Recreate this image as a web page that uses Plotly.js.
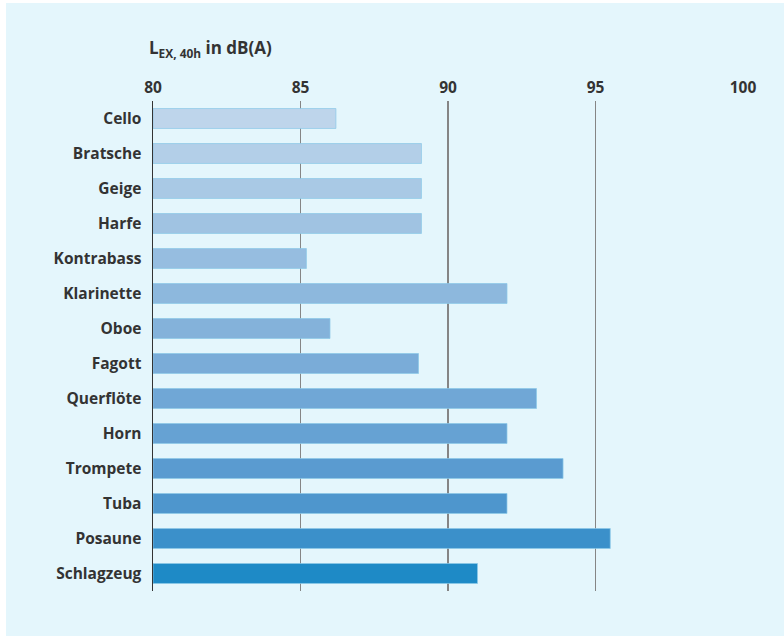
<!DOCTYPE html>
<html>
<head>
<meta charset="utf-8">
<script src="https://cdn.plot.ly/plotly-3.0.1.min.js"></script>
<style>
  html, body { margin: 0; padding: 0; background: #ffffff; }
  #chart { position: absolute; left: 6px; top: 3px; width: 778px; height: 633px; }
</style>
</head>
<body>
<div id="chart"></div>
<script>
const instruments = ["Cello", "Bratsche", "Geige", "Harfe", "Kontrabass", "Klarinette", "Oboe", "Fagott", "Querflöte", "Horn", "Trompete", "Tuba", "Posaune", "Schlagzeug"];
const levels = [86.2, 89.1, 89.1, 89.1, 85.2, 92.0, 86.0, 89.0, 93.0, 92.0, 93.9, 92.0, 95.5, 91.0];
const barColors = ["#bed5eb", "#b3cfe8", "#a9c9e5", "#a0c3e2", "#96bde0", "#8db8dd", "#84b2da", "#7aacd8", "#70a7d6", "#66a2d3", "#5a9bd0", "#4e96cd", "#3b90ca", "#1e8ac6"];
const xTicks = [80, 85, 90, 95, 100];
const axisMin = 80, axisMax = 100;

const textFont = { family: "'Open Sans', Lato, sans-serif", size: 15.5, color: "#333333", weight: 700 };
const titleFont = { family: "'Open Sans', Lato, sans-serif", size: 17, color: "#333333", weight: 700 };

const trace = {
  type: "bar",
  orientation: "h",
  y: instruments,
  x: levels.map(v => v - axisMin),
  base: axisMin,
  width: 0.57,
  marker: { color: barColors, line: { color: "rgba(140,200,232,0.9)", width: 0.8 } },
  hoverinfo: "skip"
};

const layout = {
  width: 778, height: 633,
  margin: { l: 147, r: 41, t: 98, b: 45 },
  paper_bgcolor: "#e4f6fc",
  plot_bgcolor: "rgba(0,0,0,0)",
  showlegend: false,
  bargap: 0.43,
  xaxis: {
    side: "top",
    range: [axisMin, axisMax],
    tickvals: xTicks,
    ticktext: xTicks.map(String),
    showgrid: true,
    gridcolor: "#858585",
    gridwidth: 1.5,
    zeroline: false,
    showline: false,
    ticks: "",
    tickfont: textFont,
    ticklabelstandoff: 4,
    layer: "below traces"
  },
  yaxis: {
    type: "category",
    autorange: "reversed",
    showgrid: false,
    zeroline: false,
    showline: true,
    linecolor: "#333333",
    linewidth: 1.5,
    ticks: "",
    tickfont: textFont,
    ticklabelstandoff: 7
  },
  annotations: [{
    xref: "paper", yref: "paper",
    x: -6 / 590, y: 1 + (98 - 45) / 490,
    xanchor: "left", yanchor: "middle",
    showarrow: false,
    text: "L<sub>EX, 40h</sub> in dB(A)",
    font: titleFont
  }]
};

Plotly.newPlot("chart", [trace], layout, { displayModeBar: false, staticPlot: true });
</script>
</body>
</html>
